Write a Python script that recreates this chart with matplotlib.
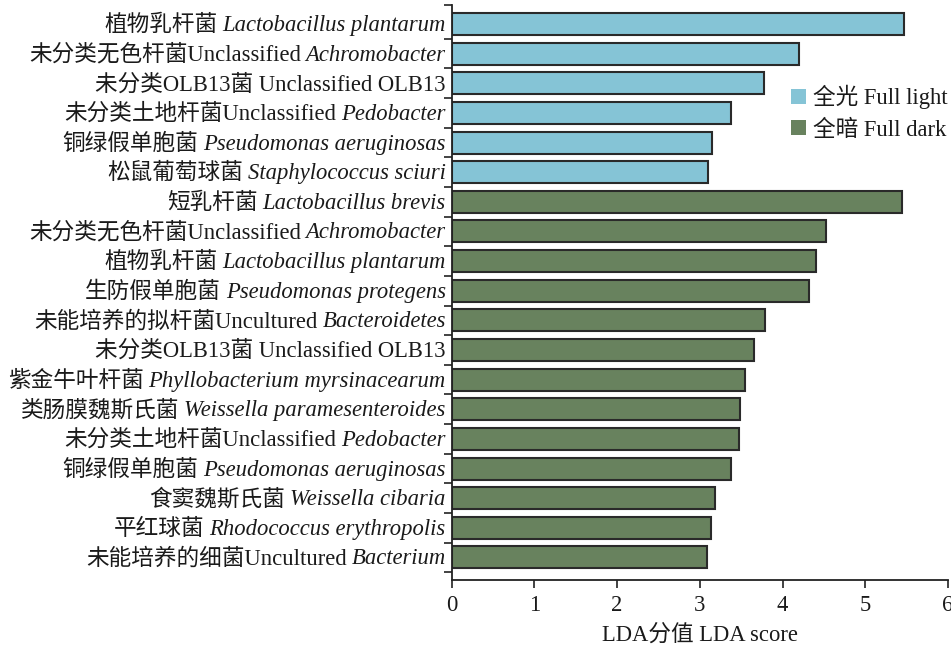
import matplotlib
matplotlib.use("Agg")
import matplotlib.pyplot as plt
from matplotlib.patches import Patch

# ---- data ----
cn_names = ["植物乳杆菌", "未分类无色杆菌", "未分类OLB13菌", "未分类土地杆菌", "铜绿假单胞菌",
            "松鼠葡萄球菌", "短乳杆菌", "未分类无色杆菌", "植物乳杆菌", "生防假单胞菌",
            "未能培养的拟杆菌", "未分类OLB13菌", "紫金牛叶杆菌", "类肠膜魏斯氏菌",
            "未分类土地杆菌", "铜绿假单胞菌", "食窦魏斯氏菌", "平红球菌", "未能培养的细菌"]
en_roman = ["", "Unclassified", " Unclassified OLB13", "Unclassified", "",
            "", "", "Unclassified", "", "",
            "Uncultured", " Unclassified OLB13", "", "",
            "Unclassified", "", "", "", "Uncultured"]
en_italic = ["Lactobacillus plantarum", "Achromobacter", "", "Pedobacter", "Pseudomonas aeruginosas",
             "Staphylococcus sciuri", "Lactobacillus brevis", "Achromobacter", "Lactobacillus plantarum",
             "Pseudomonas protegens", "Bacteroidetes", "", "Phyllobacterium myrsinacearum",
             "Weissella paramesenteroides", "Pedobacter", "Pseudomonas aeruginosas",
             "Weissella cibaria", "Rhodococcus erythropolis", "Bacterium"]
lda_scores = [5.47, 4.20, 3.78, 3.38, 3.15, 3.10,
              5.44, 4.52, 4.41, 4.32, 3.79, 3.65, 3.54, 3.49, 3.47, 3.38, 3.18, 3.13, 3.09]
groups = ["light"] * 6 + ["dark"] * 13
group_labels = {"light": "全光 Full light", "dark": "全暗 Full dark"}
group_colors = {"light": "#85C4D6", "dark": "#68825E"}
x_ticks = [0, 1, 2, 3, 4, 5, 6]
x_label = "LDA分值 LDA score"

MIX = ["Liberation Serif", "Noto Sans CJK SC"]
FS = 16.3
TXT = "#1a1a1a"

fig = plt.figure(figsize=(9.51, 6.45), dpi=100)
ax = fig.add_axes([0.475, 0.1008, 0.5218, 0.8914])

ypos = list(range(len(lda_scores)))
colors = [group_colors[g] for g in groups]
ax.barh(ypos, lda_scores, height=0.74, color=colors, edgecolor="#2a2a2a", linewidth=1.5, zorder=2)

ax.set_xlim(0, 6)
ax.set_ylim(18.76, -0.64)
ax.set_xticks(x_ticks)
ax.set_xticklabels([str(t) for t in x_ticks], family="Liberation Serif", fontsize=FS, color=TXT)
ax.set_yticks([i + 0.5 for i in range(0, len(lda_scores))] + [-0.64])
ax.set_yticklabels([])
ax.tick_params(axis="y", length=6, width=1.2, direction="out", color="#222")
ax.tick_params(axis="x", length=6, width=1.2, direction="out", color="#222", pad=5)
for s in ["top", "right"]:
    ax.spines[s].set_visible(False)
for s in ["left", "bottom"]:
    ax.spines[s].set_linewidth(1.3)
    ax.spines[s].set_color("#222")

ax.set_xlabel(x_label, family=MIX, fontsize=FS, color=TXT, labelpad=6)

# ---- mixed-style y labels ----
fig.canvas.draw()
renderer = fig.canvas.get_renderer()
ytr = ax.get_yaxis_transform()
for i in ypos:
    parts = []
    roman = cn_names[i]
    if en_roman[i]:
        roman += en_roman[i]
    if en_italic[i]:
        parts.append((roman, "normal", MIX))
        parts.append((en_italic[i], "italic", ["Liberation Serif"]))
    else:
        parts.append((roman, "normal", MIX))
    dx = 6
    for txt, style, fam in reversed(parts):
        t = ax.annotate(txt, xy=(0, i), xycoords=ytr, xytext=(-dx, -7), textcoords="offset pixels",
                        ha="right", va="baseline", fontsize=FS, family=fam, style=style,
                        color=TXT, annotation_clip=False)
        w = t.get_window_extent(renderer).width
        dx += w + (5 if style == "italic" else 0)

# ---- legend ----
handles = [Patch(facecolor=group_colors[k], edgecolor="none") for k in ["light", "dark"]]
fig.legend(handles, [group_labels[k] for k in ["light", "dark"]], loc="upper left",
           bbox_to_anchor=(791 / 951, 1 - 85 / 645), frameon=False,
           prop={"family": MIX, "size": FS}, handlelength=0.66, handleheight=0.66,
           handletextpad=0.32, labelspacing=0.45, borderpad=0.0, borderaxespad=0.0,
           labelcolor=TXT)

fig.savefig("out.png", dpi=100)
